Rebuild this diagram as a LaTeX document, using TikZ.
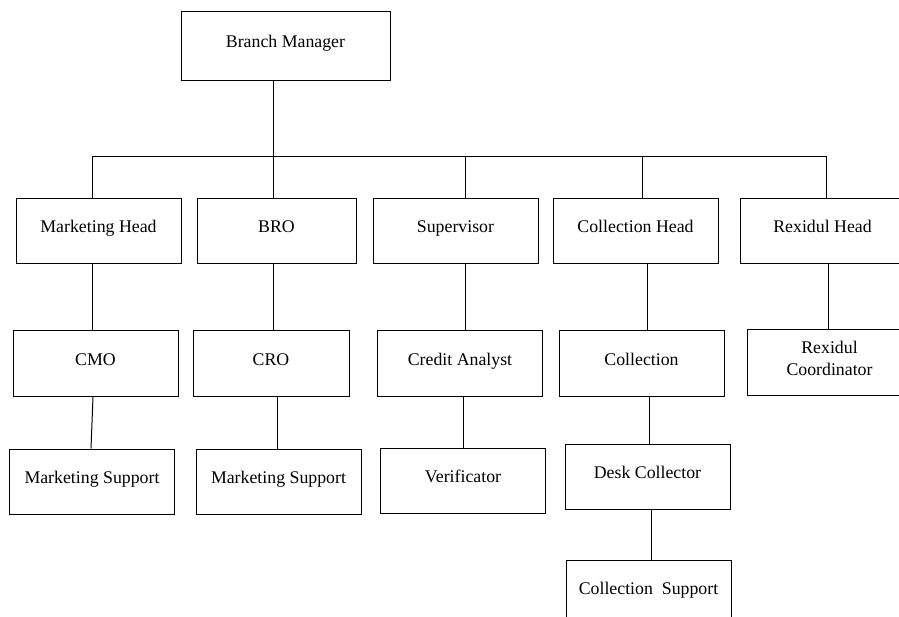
\documentclass[tikz,border=0pt]{standalone}
\usepackage{fontspec}
\setmainfont{Liberation Serif}

\begin{document}
\begin{tikzpicture}[x=1pt, y=-1pt, line width=1pt,
	orgbox/.style={draw, inner sep=0pt, minimum width=165pt, minimum height=65pt,
		text height=12pt, text depth=9pt, font=\fontsize{17.8}{22}\selectfont}]
	\useasboundingbox (0,0) rectangle (899,617);
	% top
	\node[orgbox, minimum width=209pt, minimum height=69pt] (bm) at (285.5,46.5) {Branch Manager};
	\coordinate (bus) at (273,157);
	% first level
	\node[orgbox] (mkt) at (98.5,231.5) {Marketing Head};
	\node[orgbox, minimum width=159pt] (bro) at (276.5,231.5) {BRO};
	\node[orgbox] (sup) at (455.5,231.5) {Supervisor};
	\node[orgbox] (colh) at (635.5,231.5) {Collection Head};
	\node[orgbox] (rex) at (822.5,231.5) {Rexidul Head};
	% second level
	\node[orgbox] (cmo) at (95.5,363.5) {CMO};
	\node[orgbox, minimum width=156pt] (cro) at (271,363.5) {CRO};
	\node[orgbox] (ca) at (460,363.5) {Credit Analyst};
	\node[orgbox] (col) at (641.5,363.5) {Collection};
	\node[orgbox, align=center, text height=34pt, text depth=9pt] (rexc) at (829.5,362.5) {Rexidul\\Coordinator};
	% third level
	\node[orgbox] (ms1) at (92,481.5) {Marketing Support};
	\node[orgbox] (ms2) at (278.5,481.5) {Marketing Support};
	\node[orgbox] (ver) at (463,480.5) {Verificator};
	\node[orgbox] (desk) at (647.5,477) {Desk Collector};
	\node[orgbox] (cs) at (648.5,592.5) {Collection~~Support};
	% lines
	\draw (bm.south -| bus) -- (bro.north -| bus);
	\foreach \n/\dx in {mkt/-6.5, sup/9.5, colh/6.5, rex/3.5}
		\draw ([xshift=\dx pt]\n.north) |- (bus);
	\foreach \a/\b/\da/\db in {mkt/cmo/-6.5/-3.5, bro/cro/-3.5/2, sup/ca/9.5/5, colh/col/11.5/5.5, rex/rexc/5.5/-1.5,
		cmo/ms1/-2.5/-1, cro/ms2/6/-1.5, ca/ver/3/0, col/desk/7.5/1.5, desk/cs/3.5/2.5}
		\draw ([xshift=\da pt]\a.south) -- ([xshift=\db pt]\b.north);
\end{tikzpicture}
\end{document}
